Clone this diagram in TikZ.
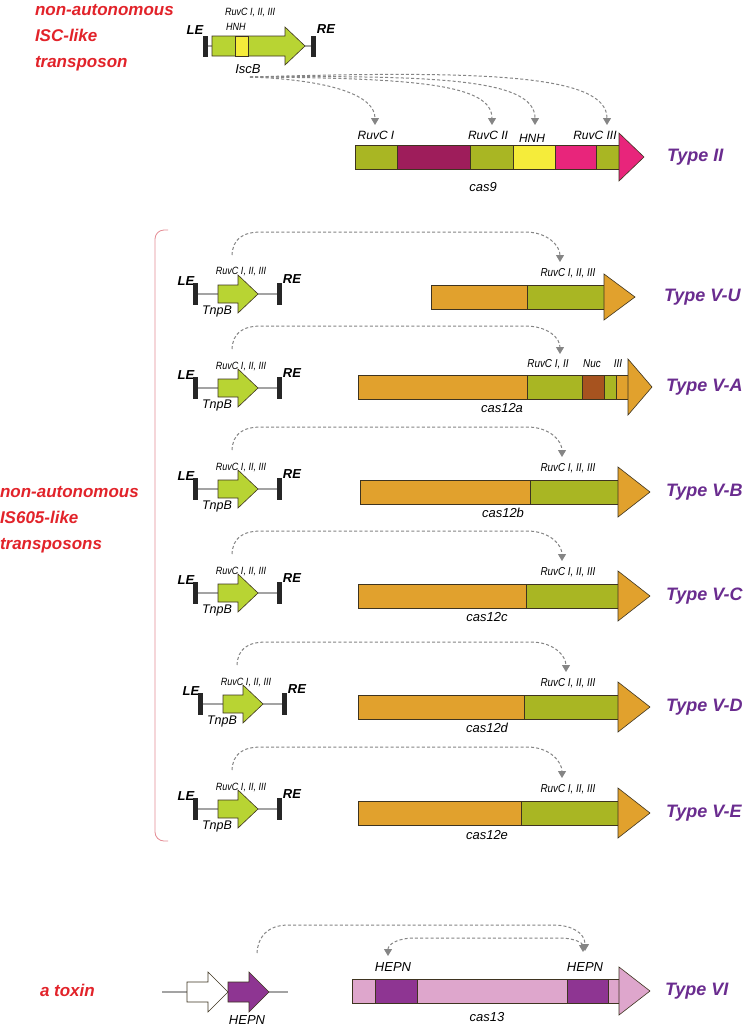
\documentclass[tikz,border=0pt]{standalone}
\usepackage{fontspec}
\setmainfont{Liberation Sans}
\newfontfamily\labfont[FakeStretch=0.86]{Liberation Sans}
\usetikzlibrary{arrows.meta,calc}
\definecolor{tred}{HTML}{E2232A}
\definecolor{tpurple}{HTML}{6A2C8F}
\definecolor{lime}{HTML}{B8D433}
\definecolor{olive}{HTML}{A9B623}
\definecolor{maroon}{HTML}{9E1D5B}
\definecolor{yel}{HTML}{F5EC3A}
\definecolor{pinkc}{HTML}{E8257B}
\definecolor{orng}{HTML}{E1A12D}
\definecolor{brwn}{HTML}{A7531F}
\definecolor{hepn}{HTML}{8E3592}
\definecolor{lpink}{HTML}{DEA6CC}
\definecolor{dgray}{HTML}{858585}
\definecolor{lgray}{HTML}{A3A3A3}
\definecolor{outl}{HTML}{3E3420}
\definecolor{brk}{HTML}{E58C94}
\tikzset{
  every node/.style={inner sep=0pt, outer sep=0pt},
  redlab/.style={font=\fontsize{17}{20}\selectfont\bfseries\itshape, text=tred, anchor=base west},
  typelab/.style={font=\fontsize{18}{20}\selectfont\bfseries\itshape, text=tpurple, anchor=west},
  lab/.style={font=\labfont\fontsize{11.5}{13}\selectfont\itshape},
  c9lab/.style={font=\fontsize{12}{13}\selectfont\itshape},
  tlab/.style={font=\labfont\fontsize{10.5}{11}\selectfont\itshape},
  endlab/.style={font=\fontsize{13}{14}\selectfont\bfseries\itshape},
  genelab/.style={font=\fontsize{13}{14}\selectfont\itshape},
  conn/.style={draw=dgray, line width=1pt, dash pattern=on 3pt off 2.2pt, -{Triangle[length=7pt,width=8pt]}},
  segbox/.style={draw=outl, line width=0.6pt},
  tnparrow/.style={fill=lime, draw=outl, line width=0.6pt},
  endbar/.style={fill=black!85},
  dnaline/.style={draw=lgray, line width=2.2pt},
}
\newcommand\seg[3]{\filldraw[segbox, fill=#3] (#1,-12) rectangle (#2,12);}
\newcommand\ghead[4]{\filldraw[segbox, fill=#4] (#1,-12) -- (#1,-#3) -- (#2,0) -- (#1,#3) -- (#1,12) -- cycle;}
% transposon: #1 name, #2 x shift, #3 line y
\newcommand\tnp[3]{%
\begin{scope}[shift={(#2,#3)}]
  \draw[dnaline] (197,0) -- (281,0);
  \fill[endbar] (193,-11) rectangle (198,11);
  \fill[endbar] (277,-11) rectangle (282,11);
  \draw[tnparrow] (218,-9) -- (238,-9) -- (238,-19) -- (258,0) -- (238,19) -- (238,9) -- (218,9) -- cycle;
  \node[endlab] (#1LE) at (186,-13) {LE};
  \node[endlab] (#1RE) at (292,-15) {RE};
  \node[tlab] (#1dom) at (241,-22) {RuvC I, II, III};
  \node[genelab, font=\fontsize{12.5}{13}\selectfont\itshape] (#1gene) at (217,17) {TnpB};
  \coordinate (#1s) at (232,-39);
\end{scope}}
% connector from transposon to cas domain (canvas y points up)
\newcommand\link[2]{%
  \draw[conn] let \p1=(#1), \p2=(#2) in
    (#1) .. controls (\x1+1pt,\y1+16pt) and (\x1+10pt,\y1+23pt) .. (\x1+30pt,\y1+23pt)
    -- (\x2-35pt,\y1+23pt) .. controls (\x2-12pt,\y1+23pt) and (\x2,\y2+16pt) .. (#2);}
\begin{document}
\begin{tikzpicture}[x=1pt,y=-1pt]
\fill[white] (0,0) rectangle (749,1026);
\useasboundingbox (0,0) rectangle (749,1026);

% ---------------- Type II ----------------
\node[redlab] (isc1) at (35,15) {non-autonomous};
\node[redlab] (isc2) at (35,41) {ISC-like};
\node[redlab] (isc3) at (35,67) {transposon};

\draw[dnaline] (206,46) -- (313,46);
\fill[endbar] (203,36) rectangle (208,57);
\fill[endbar] (311,36) rectangle (316,57);
\draw[tnparrow] (212,36) -- (285,36) -- (285,27) -- (305,46) -- (285,65) -- (285,56) -- (212,56) -- cycle;
\filldraw[fill=yel, draw=outl, line width=0.6pt] (235,36) rectangle (248,56);
\node[endlab] (iscLE) at (195,30) {LE};
\node[endlab] (iscRE) at (326,29) {RE};
\node[tlab, anchor=west] (iscdom) at (225,13) {RuvC I, II, III};
\node[tlab, anchor=west] (iscHNH) at (226,27) {HNH};
\node[genelab] (iscB) at (248,69) {IscB};
\coordinate (Is) at (250,77);

\begin{scope}[shift={(0,157)}]
  \seg{355}{397}{olive}
  \seg{397}{470}{maroon}
  \seg{470}{513}{olive}
  \seg{513}{555}{yel}
  \seg{555}{596}{pinkc}
  \seg{596}{619}{olive}
  \ghead{619}{644}{24}{pinkc}
  \node[c9lab] (c9a) at (376,-22) {RuvC I};
  \node[c9lab] (c9b) at (488,-22) {RuvC II};
  \node[c9lab] (c9c) at (532,-19) {HNH};
  \node[c9lab] (c9d) at (595,-22) {RuvC III};
  \node[genelab] (cas9) at (483,30) {cas9};
  \coordinate (tI) at (375,-32);
  \coordinate (tII) at (492,-32);
  \coordinate (tH) at (535,-32);
  \coordinate (tIII) at (607,-32);
\end{scope}
\node[typelab] (t2) at (667,157) {Type II};
\draw[conn] (Is) .. controls (330,80) and (375,95) .. (tI);
\draw[conn] (Is) .. controls (420,78) and (492,85) .. (tII);
\draw[conn] (Is) .. controls (445,75) and (535,80) .. (tH);
\draw[conn] (Is) .. controls (490,70) and (607,75) .. (tIII);

% ---------------- Type V ----------------
\draw[brk, line width=0.8pt, rounded corners=9pt] (168,230) -- (155,230) -- (155,841) -- (168,841);
\node[redlab] (is1) at (0,497) {non-autonomous};
\node[redlab] (is2) at (0,523) {IS605-like};
\node[redlab] (is3) at (0,549) {transposons};

% V-U
\tnp{U}{0}{294}
\begin{scope}[shift={(0,297)}]
  \seg{431}{527}{orng}
  \seg{527}{604}{olive}
  \ghead{604}{635}{23}{orng}
  \node[lab] (Udom) at (568,-24) {RuvC I, II, III};
  \coordinate (Ut) at (560,-35);
\end{scope}
\node[typelab] (tU) at (664,297) {Type V-U};
\link{Us}{Ut}

% V-A
\tnp{A}{0}{388}
\begin{scope}[shift={(0,387)}]
  \seg{358}{527}{orng}
  \seg{527}{582}{olive}
  \seg{582}{604}{brwn}
  \seg{604}{616}{olive}
  \seg{616}{628}{orng}
  \ghead{628}{652}{28}{orng}
  \node[lab] (Adom) at (548,-23) {RuvC I, II};
  \node[lab] (Anuc) at (592,-23) {Nuc};
  \node[lab] (Aiii) at (618,-23) {III};
  \node[genelab] (cas12a) at (502,21) {cas12a};
  \coordinate (At) at (560,-33);
\end{scope}
\node[typelab] (tA) at (666,387) {Type V-A};
\link{As}{At}

% V-B
\tnp{B}{0}{489}
\begin{scope}[shift={(0,492)}]
  \seg{360}{530}{orng}
  \seg{530}{618}{olive}
  \ghead{618}{650}{25}{orng}
  \node[lab] (Bdom) at (568,-24) {RuvC I, II, III};
  \node[genelab] (cas12b) at (503,21) {cas12b};
  \coordinate (Bt) at (562,-35);
\end{scope}
\node[typelab] (tB) at (666,492) {Type V-B};
\link{Bs}{Bt}

% V-C
\tnp{C}{0}{593}
\begin{scope}[shift={(0,596)}]
  \seg{358}{526}{orng}
  \seg{526}{618}{olive}
  \ghead{618}{650}{25}{orng}
  \node[lab] (Cdom) at (568,-24) {RuvC I, II, III};
  \node[genelab] (cas12c) at (487,21) {cas12c};
  \coordinate (Ct) at (562,-35);
\end{scope}
\node[typelab] (tC) at (666,596) {Type V-C};
\link{Cs}{Ct}

% V-D
\tnp{D}{5}{704}
\begin{scope}[shift={(0,707)}]
  \seg{358}{524}{orng}
  \seg{524}{618}{olive}
  \ghead{618}{650}{25}{orng}
  \node[lab] (Ddom) at (568,-24) {RuvC I, II, III};
  \node[genelab] (cas12d) at (487,21) {cas12d};
  \coordinate (Dt) at (566,-35);
\end{scope}
\node[typelab] (tD) at (666,707) {Type V-D};
\link{Ds}{Dt}

% V-E
\tnp{E}{0}{809}
\begin{scope}[shift={(0,813)}]
  \seg{358}{521}{orng}
  \seg{521}{618}{olive}
  \ghead{618}{650}{25}{orng}
  \node[lab] (Edom) at (568,-24) {RuvC I, II, III};
  \node[genelab] (cas12e) at (487,22) {cas12e};
  \coordinate (Et) at (562,-35);
\end{scope}
\node[typelab] (tE) at (666,813) {Type V-E};
\link{Es}{Et}

% ---------------- Type VI ----------------
\node[redlab, anchor=west] (toxin) at (40,990) {a toxin};
\begin{scope}[shift={(0,992)}]
  \draw[dnaline] (162,0) -- (288,0);
  \filldraw[fill=white, draw=outl, line width=0.6pt] (187,-10) -- (208,-10) -- (208,-20) -- (228,0) -- (208,20) -- (208,10) -- (187,10) -- cycle;
  \filldraw[fill=hepn, draw=outl, line width=0.6pt] (228,-10) -- (249,-10) -- (249,-20) -- (269,0) -- (249,20) -- (249,10) -- (228,10) -- cycle;
  \node[genelab] (toxHEPN) at (247,28) {HEPN};
  \coordinate (sT) at (257,-39);
\end{scope}
\begin{scope}[shift={(0,991)}]
  \seg{352}{375}{lpink}
  \seg{375}{417}{hepn}
  \seg{417}{567}{lpink}
  \seg{567}{608}{hepn}
  \seg{608}{619}{lpink}
  \ghead{619}{650}{24}{lpink}
  \node[genelab] (h1) at (393,-24) {HEPN};
  \node[genelab] (h2) at (585,-24) {HEPN};
  \node[genelab] (cas13) at (487,26) {cas13};
  \coordinate (hA) at (388,-35);
  \coordinate (hB) at (585,-40);
  \coordinate (hB2) at (583,-39);
\end{scope}
\node[typelab] (t6) at (665,991) {Type VI};
\draw[conn] (sT) .. controls ($(sT)+(1,-16)$) and ($(sT)+(10,-28)$) .. ($(sT)+(32,-28)$) -- (553,925) .. controls (572,925) and (585,933) .. (hB);
\draw[conn, {Triangle[length=7pt,width=8pt]}-{Triangle[length=7pt,width=8pt]}] (hA) .. controls (388,945) and (396,938) .. (415,938) -- (560,938) .. controls (574,938) and (583,943) .. (hB2);
\end{tikzpicture}
\end{document}
